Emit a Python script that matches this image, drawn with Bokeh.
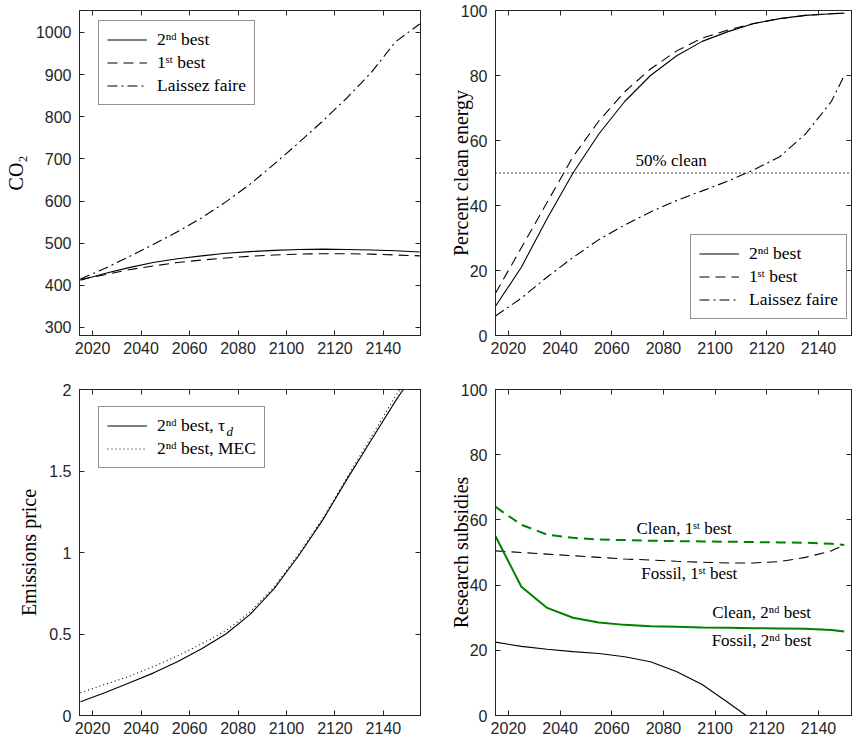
from bokeh.plotting import figure
from bokeh.layouts import gridplot
from bokeh.models import (Legend, LegendItem, LinearAxis, Range1d, Label, FixedTicker,
                          Span, CustomJSTickFormatter)
from bokeh.embed import file_html
from bokeh.resources import INLINE
from bokeh.core.properties import value

# ---------------- data ----------------
# Top-left: CO2
co2_years = [2015, 2025, 2035, 2045, 2055, 2065, 2075, 2085, 2095, 2105, 2115, 2125, 2135, 2145, 2155]
co2_second = [412, 428, 442, 454, 463, 470, 476, 480, 483, 485, 486, 485, 484, 482, 479]
co2_first = [414, 425, 437, 446, 454, 460, 465, 469, 472, 474, 475, 475, 474, 472, 470]
co2_laissez = [415, 440, 468, 497, 527, 560, 598, 640, 688, 738, 790, 845, 905, 978, 1020]

# Top-right: percent clean energy
clean_years = [2015, 2025, 2035, 2045, 2055, 2065, 2075, 2085, 2095, 2105, 2115, 2125, 2135, 2145, 2150]
clean_second = [9, 21, 36, 50, 62, 72, 80, 86, 90.5, 93.5, 96, 97.5, 98.5, 99, 99.2]
clean_first = [13, 27, 41, 55, 66, 75, 82, 87.5, 91.5, 94, 96, 97.5, 98.5, 99, 99.2]
clean_laissez = [6, 11.5, 18, 24, 29.5, 34, 38, 41.5, 44.5, 47.5, 51, 55, 62, 72, 80]
clean_threshold = 50

# Bottom-left: emissions price
price_years = [2015, 2025, 2035, 2045, 2055, 2065, 2075, 2085, 2095, 2105, 2115, 2125, 2135, 2145, 2150]
price_tau = [0.085, 0.14, 0.2, 0.26, 0.33, 0.41, 0.5, 0.62, 0.78, 0.98, 1.2, 1.45, 1.69, 1.93, 2.04]
price_mec = [0.14, 0.19, 0.24, 0.3, 0.365, 0.44, 0.52, 0.635, 0.79, 0.99, 1.21, 1.46, 1.71, 1.96, 2.07]

# Bottom-right: research subsidies
sub_years = [2015, 2025, 2035, 2045, 2055, 2065, 2075, 2085, 2095, 2105, 2115, 2125, 2135, 2145, 2150]
sub_clean_first = [64, 58.5, 55.5, 54.5, 54, 53.8, 53.6, 53.5, 53.4, 53.3, 53.2, 53.1, 53, 52.7, 52.3]
sub_fossil_first = [50.5, 50, 49.5, 49, 48.5, 48, 47.7, 47.3, 47, 46.8, 46.8, 47.2, 48.5, 50.5, 52.3]
sub_clean_second = [55, 39.5, 33, 30, 28.5, 27.8, 27.4, 27.2, 27, 26.9, 26.8, 26.7, 26.6, 26.2, 25.8]
fossil2_years = [2015, 2025, 2035, 2045, 2055, 2065, 2075, 2085, 2095, 2105, 2112]
sub_fossil_second = [22.5, 21.2, 20.3, 19.6, 19, 18, 16.5, 13.5, 9.5, 4, 0]

x_ticks = [2020, 2040, 2060, 2080, 2100, 2120, 2140]
co2_ticks = [300, 400, 500, 600, 700, 800, 900, 1000]
pct_ticks = [0, 20, 40, 60, 80, 100]
price_ticks = [0, 0.5, 1, 1.5, 2]

# ---------------- styling helpers ----------------
AX = "#262626"
SERIF = "Liberation Serif"
SANS = "Liberation Sans"
GREEN = "#008000"


def style_axis(ax, ticks, labels=True):
    ax.ticker = FixedTicker(ticks=ticks)
    ax.axis_line_color = AX
    ax.major_tick_line_color = AX
    ax.major_tick_in = 5
    ax.major_tick_out = 0
    ax.minor_tick_in = 0
    ax.minor_tick_out = 0
    ax.minor_tick_line_color = None
    if labels:
        ax.major_label_text_font = SANS
        ax.major_label_text_font_size = "16px"
        ax.major_label_text_color = AX
        ax.major_label_standoff = 8
        ax.axis_label_text_font = SERIF
        ax.axis_label_text_font_size = "20px"
        ax.axis_label_text_font_style = "normal"
        ax.axis_label_text_color = "black"
    else:
        ax.formatter = CustomJSTickFormatter(code="return ''")
        ax.major_label_standoff = 0


def make_fig(xr, yr, ml, w, mr, mt, h, mb, yticks, ylabel, label_standoff):
    p = figure(width=ml + w + mr, height=mt + h + mb,
               x_range=Range1d(*xr), y_range=Range1d(*yr),
               output_backend="svg", toolbar_location=None, tools="",
               min_border_left=ml, min_border_right=mr,
               min_border_top=mt, min_border_bottom=mb)
    p.grid.visible = False
    p.outline_line_color = AX
    p.outline_line_width = 1
    p.background_fill_color = "white"
    p.border_fill_color = "white"
    style_axis(p.xaxis[0], x_ticks)
    p.xaxis[0].major_label_standoff = 6
    style_axis(p.yaxis[0], yticks)
    p.yaxis[0].axis_label = ylabel
    p.yaxis[0].axis_label_standoff = label_standoff
    top = LinearAxis()
    style_axis(top, x_ticks, labels=False)
    p.add_layout(top, "above")
    right = LinearAxis()
    style_axis(right, yticks, labels=False)
    p.add_layout(right, "right")
    return p


def make_legend(items, loc, bg_alpha=1.0):
    return Legend(items=items, location=loc,
                  label_text_font=SERIF, label_text_font_size="17.5px",
                  label_text_color="black",
                  glyph_width=40, glyph_height=21, label_height=21,
                  spacing=2, padding=8, margin=0, label_standoff=10,
                  border_line_color=AX, border_line_width=1,
                  background_fill_color="white", background_fill_alpha=bg_alpha)


LEFT_X = (2014.6, 2155.3)
RIGHT_X = (2015.0, 2152.8)

# ---------------- top-left ----------------
p1 = make_fig(LEFT_X, (281, 1052), 79, 341, 10, 10, 325, 30, co2_ticks, "CO₂", 6)
r_s = p1.line(co2_years, co2_second, line_color="black", line_width=1.1)
r_f = p1.line(co2_years, co2_first, line_color="black", line_width=1.1, line_dash="10 6")
r_l = p1.line(co2_years, co2_laissez, line_color="black", line_width=1.1, line_dash="10 4 2 4")
p1.add_layout(make_legend([
    LegendItem(label=value("2ⁿᵈ best"), renderers=[r_s]),
    LegendItem(label=value("1ˢᵗ best"), renderers=[r_f]),
    LegendItem(label=value("Laissez faire"), renderers=[r_l]),
], (19, 230)))

# ---------------- top-right ----------------
p2 = make_fig(RIGHT_X, (0, 100), 65, 356, 4, 10, 325, 30, pct_ticks, "Percent clean energy", -14)
p2.add_layout(Span(location=clean_threshold, dimension="width", line_color="black",
                   line_width=1.5, line_dash="1 3"))
q_s = p2.line(clean_years, clean_second, line_color="black", line_width=1.1)
q_f = p2.line(clean_years, clean_first, line_color="black", line_width=1.1, line_dash="10 6")
q_l = p2.line(clean_years, clean_laissez, line_color="black", line_width=1.1, line_dash="10 4 2 4")
p2.add_layout(Label(x=2083, y=54, text="50% clean", text_font=SERIF, text_font_size="17px",
                    text_align="center", text_baseline="middle", text_color="black"))
p2.add_layout(make_legend([
    LegendItem(label=value("2ⁿᵈ best"), renderers=[q_s]),
    LegendItem(label=value("1ˢᵗ best"), renderers=[q_f]),
    LegendItem(label=value("Laissez faire"), renderers=[q_l]),
], (195, 16)))

# ---------------- bottom-left ----------------
p3 = make_fig(LEFT_X, (0, 2), 79, 341, 10, 24, 326, 30, price_ticks, "Emissions price", 6)
e_t = p3.line(price_years, price_tau, line_color="black", line_width=1.1)
e_m = p3.line(price_years, price_mec, line_color="black", line_width=1.1, line_dash="1 3")
p3.add_layout(make_legend([
    LegendItem(label=value("2ⁿᵈ best, τ"), renderers=[e_t]),
    LegendItem(label=value("2ⁿᵈ best, MEC"), renderers=[e_m]),
], (19, 247), bg_alpha=0.0))
# italic subscript "d" of tau_d in the legend entry
p3.text(x=[2075.3], y=[1.745], text=["d"], text_font=value(SERIF),
        text_font_size=value("13px"), text_font_style=value("italic"),
        text_align="left", text_baseline="middle", text_color="black")

# ---------------- bottom-right ----------------
p4 = make_fig(RIGHT_X, (0, 100), 65, 356, 4, 24, 326, 30, pct_ticks, "Research subsidies", -14)
p4.line(sub_years, sub_clean_first, line_color=GREEN, line_width=2, line_dash="10 6")
p4.line(sub_years, sub_fossil_first, line_color="black", line_width=1.1, line_dash="10 6")
p4.line(sub_years, sub_clean_second, line_color=GREEN, line_width=2)
p4.line(fossil2_years, sub_fossil_second, line_color="black", line_width=1.1)
for tx, ty, tt in [(2088, 57.5, "Clean, 1ˢᵗ best"), (2090, 43.6, "Fossil, 1ˢᵗ best"),
                   (2118, 31.6, "Clean, 2ⁿᵈ best"), (2118, 23, "Fossil, 2ⁿᵈ best")]:
    p4.add_layout(Label(x=tx, y=ty, text=tt, text_font=SERIF, text_font_size="17px",
                        text_align="center", text_baseline="middle", text_color="black"))

grid = gridplot([[p1, p2], [p3, p4]], toolbar_location=None)

open("out.html", "w").write(file_html(grid, INLINE))
